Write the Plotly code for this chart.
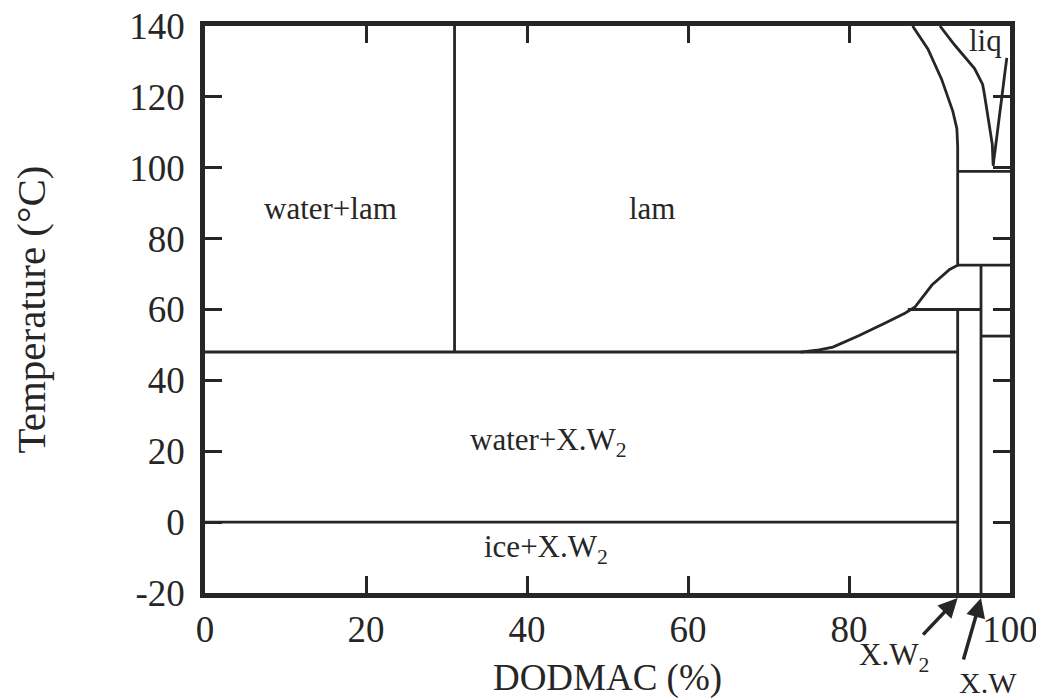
import plotly.graph_objects as go

# ---- axis ticks ----
x_ticks = [0, 20, 40, 60, 80, 100]
y_ticks = [-20, 0, 20, 40, 60, 80, 100, 120, 140]
y_tick_text = ["-20", "0", "20", "40", "60", "80", "100", "120", "140"]

# ---- phase boundaries (DODMAC %, temperature °C) ----
lam_split_x = [31, 31]
lam_split_T = [48, 140]
eutectic_x = [0, 93.5]
eutectic_T = [48, 48]
ice_x = [0, 93.5]
ice_T = [0, 0]
xw2_x = [93.5, 93.5]
xw2_T = [-20, 60]
xw_x = [96.4, 96.4]
xw_T = [-20, 72.5]
t60_x = [87.3, 96.4]
t60_T = [60, 60]
t72_x = [93.5, 100]
t72_T = [72.5, 72.5]
t52_x = [96.4, 100]
t52_T = [52.5, 52.5]
t99_x = [93.5, 100]
t99_T = [99, 99]
lam_bound_x = [74, 76, 78, 81.2, 84.5, 87, 88.2, 90.3, 92.5, 93.5, 93.5, 93.4, 92.9, 91.5, 89.8, 87.9]
lam_bound_T = [48, 48.5, 49.4, 52.6, 56.2, 59, 60.7, 66.9, 71.3, 72.5, 106, 111, 115.9, 125, 133.5, 140]
liq_bound_x = [91.3, 93.1, 95.6, 96.6, 96.8, 97.4, 97.8, 97.9]
liq_bound_T = [140, 134.7, 128, 123.5, 121, 113, 106.6, 101]
x_liq_x = [99.6, 97.9]
x_liq_T = [131, 100.5]

# ---- region labels ----
label_text = ["water+lam", "lam", "water+X.W<sub>2</sub>", "ice+X.W<sub>2</sub>", "liq"]
label_x = [15.6, 55.6, 42.7, 42.4, 96.9]
label_T = [88.5, 88.5, 22.5, -7.5, 136]

INK = "#262626"
FONT = "Liberation Serif"

segments = [
    (lam_split_x, lam_split_T), (eutectic_x, eutectic_T), (ice_x, ice_T),
    (xw2_x, xw2_T), (xw_x, xw_T), (t60_x, t60_T), (t72_x, t72_T),
    (t52_x, t52_T), (t99_x, t99_T), (lam_bound_x, lam_bound_T),
    (liq_bound_x, liq_bound_T), (x_liq_x, x_liq_T),
]

fig = go.Figure()
for sx, sy in segments:
    fig.add_trace(go.Scatter(x=sx, y=sy, mode="lines",
                             line=dict(color=INK, width=2.8),
                             showlegend=False, hoverinfo="skip"))

for t, lx, ly in zip(label_text, label_x, label_T):
    fig.add_annotation(x=lx, y=ly, text=t, showarrow=False,
                       font=dict(family=FONT, size=31, color=INK))

# arrows pointing at the two hydrate lines, below the axis
fig.add_annotation(x=xw2_x[0], y=-0.009, xref="x", yref="y domain",
                   ax=-36, ay=38, text="", showarrow=True,
                   arrowhead=2, arrowsize=1.1, arrowwidth=3.5, arrowcolor=INK)
fig.add_annotation(x=xw_x[0], y=-0.009, xref="x", yref="y domain",
                   ax=-18, ay=63, text="", showarrow=True,
                   arrowhead=2, arrowsize=1.1, arrowwidth=3.5, arrowcolor=INK)
fig.add_annotation(x=85.6, y=-0.112, xref="x", yref="y domain",
                   xanchor="center", yanchor="middle",
                   text="X.W<sub>2</sub>", showarrow=False,
                   font=dict(family=FONT, size=31, color=INK))
fig.add_annotation(x=97.3, y=-0.157, xref="x", yref="y domain",
                   xanchor="center", yanchor="middle",
                   text="X.W", showarrow=False,
                   font=dict(family=FONT, size=30, color=INK))

axis_common = dict(showline=True, linewidth=4.5, linecolor=INK, mirror="ticks",
                   ticks="inside", ticklen=17, tickwidth=3, tickcolor=INK,
                   showgrid=False, zeroline=False, ticklabeloverflow="allow",
                   tickfont=dict(family=FONT, size=37, color=INK))

fig.update_xaxes(range=[0, 100], tickvals=x_ticks, **axis_common,
                 title=dict(text="DODMAC (%)", standoff=22,
                            font=dict(family=FONT, size=37, color=INK)))
fig.update_yaxes(range=[-20, 140], tickvals=y_ticks, ticktext=y_tick_text,
                 **axis_common, ticklabelstandoff=8,
                 title=dict(text="Temperature (°C)", standoff=72,
                            font=dict(family=FONT, size=41, color=INK)))

fig.update_layout(width=1036, height=691,
                  margin=dict(l=197, r=34, t=18, b=106, autoexpand=False),
                  plot_bgcolor="white", paper_bgcolor="white")

fig.write_html("out.html")
